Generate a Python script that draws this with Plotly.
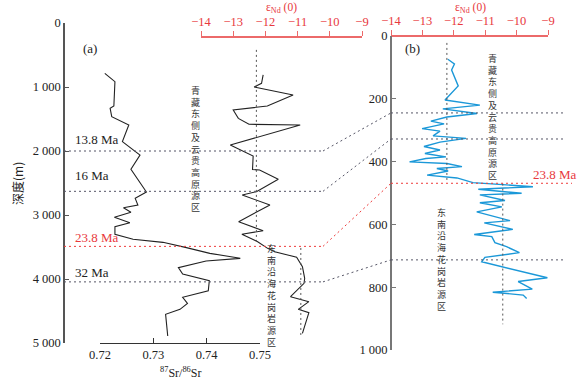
import plotly.graph_objs as go

W, H = 588, 385

# 左图 (a): 87Sr/86Sr 与 εNd(0) 随深度
sr_depth = [786, 917, 1297, 1333, 1464, 1594, 1854, 2063, 2286, 2640, 2740, 2844, 2886, 2958,
            3036, 3120, 3182, 3302, 3380, 3427, 3510, 3599, 3677, 3719, 3823, 3922, 4026, 4183,
            4286, 4380, 4474, 4552, 4890]
sr_val = [0.7209, 0.7228, 0.7226, 0.7219, 0.7222, 0.7254, 0.7242, 0.7275, 0.7258, 0.7287,
          0.7266, 0.7271, 0.7244, 0.7258, 0.7227, 0.7256, 0.7228, 0.7228, 0.7262, 0.7318,
          0.7362, 0.7406, 0.7463, 0.7399, 0.7347, 0.7355, 0.7405, 0.7403, 0.7355, 0.7364,
          0.7350, 0.7323, 0.7327]

nd_a_depth = [812, 942, 1000, 1125, 1297, 1359, 1490, 1583, 1594, 1906, 2078, 2290, 2297, 2443,
              2636, 2688, 2844, 3104, 3245, 3302, 3417, 3521, 3573, 3625, 3661, 3807, 3990, 4067,
              4276, 4354, 4474, 4526, 4849]
nd_a_val = [-12.07, -12.12, -12.35, -11.14, -11.94, -13.0, -12.84, -12.51, -10.92, -13.09,
            -12.38, -12.4, -12.18, -11.6, -12.28, -12.72, -11.86, -12.83, -12.07, -12.73,
            -12.24, -11.93, -11.71, -11.32, -11.03, -10.85, -10.78, -10.8, -11.22, -10.65,
            -10.98, -10.65, -10.85]

# 右图 (b): εNd(0) 随深度
nd_b_depth = [74, 89, 108, 159, 204, 220, 232, 247, 258, 271, 280, 295, 303, 318, 326, 338, 352,
              363, 374, 385, 390, 401, 406, 416, 422, 430, 443, 452, 467, 480, 488, 501, 506, 524,
              531, 544, 560, 588, 595, 616, 632, 639, 658, 671, 690, 705, 719, 770, 782, 806, 816,
              825, 836]
nd_b_val = [-12.19, -11.98, -12.07, -11.86, -12.28, -11.17, -12.35, -11.26, -12.22, -12.73,
            -12.31, -13.01, -12.44, -12.66, -11.61, -12.44, -12.95, -12.44, -12.92, -12.25,
            -12.89, -13.41, -12.22, -11.74, -12.54, -12.18, -12.85, -11.9, -11.39, -9.48,
            -11.22, -9.84, -11.17, -10.37, -11.17, -10.47, -11.27, -10.21, -11.03, -10.12,
            -11.35, -10.79, -10.69, -10.32, -9.91, -11.01, -11.11, -9.02, -9.95, -9.5, -10.76,
            -9.79, -9.68]

# 源区平均值 (虚线)
mean_a_nd = [-12.28, -10.9]
mean_a_top = [420, 3515]
mean_a_bot = [3420, 4920]
mean_b_nd = [-12.22, -10.44]
mean_b_top = [22, 470]
mean_b_bot = [460, 918]

# 年代界线
age_labels = ["13.8 Ma", "16 Ma", "23.8 Ma", "32 Ma"]
age_depth_a = [2000, 2630, 3490, 4045]
age_depth_b = [245, 328, 469, 713]
age_red = [False, False, True, False]

region_up = "青藏东侧及云贵高原源区"
region_down = "东南沿海花岗岩源区"

SERIF = "Liberation Serif"
CJK = "Noto Sans CJK SC"
RED = "#e8383d"
RED_LINE = "#ec6a6a"


def px(x):
    return x / W


def py(y):
    return 1 - y / H


ya_dom = [py(343), py(23)]
yb_dom = [py(350), py(36)]


def ya(d):
    return ya_dom[0] + (1 - d / 5000) * (ya_dom[1] - ya_dom[0])


def yb(d):
    return yb_dom[0] + (1 - d / 1000) * (yb_dom[1] - yb_dom[0])


fig = go.Figure()

fig.add_trace(go.Scatter(x=sr_val, y=sr_depth, mode="lines", xaxis="x", yaxis="y",
                         line=dict(color="#222222", width=1.1)))
fig.add_trace(go.Scatter(x=nd_a_val, y=nd_a_depth, mode="lines", xaxis="x2", yaxis="y",
                         line=dict(color="#222222", width=1.1)))
fig.add_trace(go.Scatter(x=nd_b_val, y=nd_b_depth, mode="lines", xaxis="x3", yaxis="y2",
                         line=dict(color="#1b98d8", width=1.4)))

for v, t, b in zip(mean_a_nd, mean_a_top, mean_a_bot):
    fig.add_trace(go.Scatter(x=[v, v], y=[t, b], mode="lines", xaxis="x2", yaxis="y",
                             line=dict(color="#555555", width=1, dash="2px,3px")))
for v, t, b in zip(mean_b_nd, mean_b_top, mean_b_bot):
    fig.add_trace(go.Scatter(x=[v, v], y=[t, b], mode="lines", xaxis="x3", yaxis="y2",
                             line=dict(color="#555555", width=1, dash="2px,3px")))

shapes = []
annotations = []
shifts = [12, 16, 9, 9]
for lab, da, db, red, sh in zip(age_labels, age_depth_a, age_depth_b, age_red, shifts):
    col = "#ee3b3b" if red else "#555566"
    ln = dict(color=col, width=1, dash="2px,3px")
    shapes.append(dict(type="line", xref="paper", yref="y", x0=px(64), x1=px(323),
                       y0=da, y1=da, line=ln))
    shapes.append(dict(type="line", xref="paper", yref="paper", x0=px(323), x1=px(391),
                       y0=ya(da), y1=yb(db), line=ln))
    shapes.append(dict(type="line", xref="paper", yref="y2", x0=px(391),
                       x1=px(572 if red else 563), y0=db, y1=db, line=ln))
    annotations.append(dict(text=lab, xref="paper", yref="y", x=px(73), y=da, yshift=sh,
                            xanchor="left", yanchor="middle", showarrow=False,
                            font=dict(family=SERIF, size=13, color=RED if red else "#222")))
    if red:
        annotations.append(dict(text=lab, xref="paper", yref="y2", x=px(531), y=db, yshift=9,
                                xanchor="left", yanchor="middle", showarrow=False,
                                font=dict(family=SERIF, size=13, color=RED)))


def vtext(s, xc, ytop):
    # 竖排文字: 每个字一行
    annotations.append(dict(text="<br>".join(s), xref="paper", yref="paper", x=px(xc),
                            y=py(ytop), xanchor="center", yanchor="top", showarrow=False,
                            borderpad=0, font=dict(family=CJK, size=9, color="#333")))


vtext(region_up, 195, 83)
vtext(region_down, 271, 241)
vtext(region_up, 492, 51)
vtext(region_down, 442, 205)

for txt, x, y, fam, size, col, ang in [
    ("(a)", 90, 48, SERIF, 13, "#222", 0),
    ("(b)", 413, 48, SERIF, 13, "#222", 0),
    ("ε<sub>Nd</sub> (0)", 281, 8, SERIF, 11.5, RED, 0),
    ("ε<sub>Nd</sub> (0)", 471, 8, SERIF, 11.5, RED, 0),
    ("<sup>87</sup>Sr/<sup>86</sup>Sr", 180, 372, SERIF, 12, "#222", 0),
    ("深度(m)", 18, 184, CJK, 12, "#222", -90),
]:
    annotations.append(dict(text=txt, xref="paper", yref="paper", x=px(x), y=py(y),
                            xanchor="center", yanchor="middle", showarrow=False,
                            textangle=ang, font=dict(family=fam, size=size, color=col)))

tick_font = dict(family=SERIF, size=12.5, color="#222")
red_font = dict(family=SERIF, size=12.5, color=RED)
common = dict(showgrid=False, zeroline=False, showline=True, automargin=False, anchor="free")

fig.update_layout(
    width=W, height=H,
    margin=dict(l=0, r=0, t=0, b=0),
    paper_bgcolor="white", plot_bgcolor="rgba(0,0,0,0)",
    font=dict(family=SERIF),
    showlegend=False,
    xaxis=dict(domain=[px(100), px(260)], range=[0.72, 0.75], position=py(343),
               ticks="inside", ticklen=5, linecolor="#333", tickcolor="#333",
               tickvals=[0.72, 0.73, 0.74, 0.75], ticktext=["0.72", "0.73", "0.74", "0.75"],
               tickfont=tick_font, **common),
    xaxis2=dict(domain=[px(201), px(362)], range=[-14, -9], position=py(37), side="top",
                ticks="outside", ticklen=5, linecolor=RED_LINE, tickcolor=RED_LINE,
                linewidth=1.5, tickvals=[-14, -13, -12, -11, -10, -9], tickfont=red_font,
                **common),
    xaxis3=dict(domain=[px(391), px(548)], range=[-14, -9], position=py(36), side="top",
                ticks="outside", ticklen=5, linecolor=RED_LINE, tickcolor=RED_LINE,
                linewidth=1.5, tickvals=[-14, -13, -12, -11, -10, -9], tickfont=red_font,
                **common),
    yaxis=dict(domain=ya_dom, range=[5000, 0], position=px(64), ticks="inside", ticklen=4,
               linecolor="#555", tickcolor="#555", linewidth=1.5,
               tickvals=[0, 1000, 2000, 3000, 4000, 5000],
               ticktext=["0", "1 000", "2 000", "3 000", "4 000", "5 000"],
               tickfont=tick_font, **common),
    yaxis2=dict(domain=yb_dom, range=[1000, 0], position=px(391), ticks="inside", ticklen=4,
                linecolor="#777", tickcolor="#777", linewidth=2,
                tickvals=[0, 200, 400, 600, 800, 1000],
                ticktext=["0", "200", "400", "600", "800", "1 000"],
                tickfont=tick_font, **common),
    shapes=shapes,
    annotations=annotations,
)

# 去掉页面默认边距, 隐藏工具栏
fig.write_html("out.html", config={"displayModeBar": False},
               post_script="document.body.style.margin='0';")
